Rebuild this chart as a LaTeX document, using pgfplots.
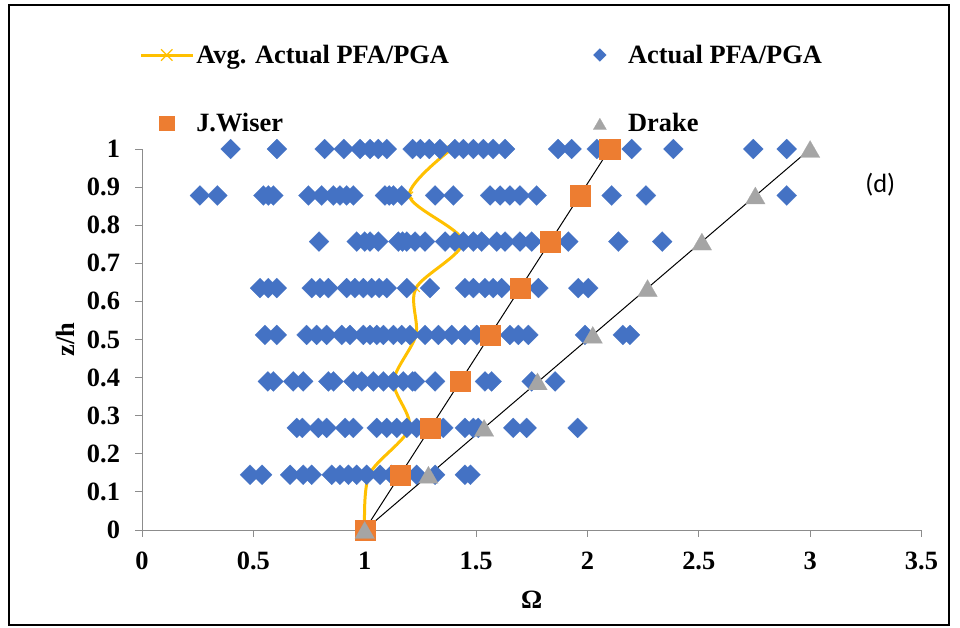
\documentclass[border=0pt]{standalone}
\usepackage{fontspec}
\setmainfont{Liberation Serif}
\newfontfamily\calibri{Carlito}
\usepackage{pgfplots}
\usepackage{pgfplotstable}
\pgfplotsset{compat=1.18}
\definecolor{xlblue}{HTML}{4472C4}
\definecolor{xlorange}{HTML}{ED7D31}
\definecolor{xlgray}{HTML}{A5A5A5}
\definecolor{xlyellow}{HTML}{FFC000}
\definecolor{axgray}{HTML}{8C8C8C}
\newcommand{\bigfont}{\fontsize{19.8}{23}\selectfont}
\pgfplotsset{
  markleg/.style={legend image code/.code={\path (0pt,0pt) (39pt,0pt);
    \draw[##1, mark size=#1] plot coordinates {(19.5pt,0pt)};}},
  lineleg/.style={legend image code/.code={\draw[##1] (0pt,0pt) -- (39pt,0pt);
    \draw[##1, mark size=#1] plot coordinates {(19.5pt,0pt)};}},
}

% measured PFA/PGA ratios, one row per floor level
\pgfplotstableread{
x y
0.398 1
0.606 1
0.82 1
0.906 1
0.979 1
1.024 1
1.061 1
1.099 1
1.215 1
1.25 1
1.29 1
1.338 1
1.405 1
1.443 1
1.488 1
1.533 1
1.577 1
1.63 1
1.868 1
1.929 1
2.042 1
2.199 1
2.386 1
2.745 1
2.895 1
0.26 0.878
0.338 0.878
0.545 0.878
0.567 0.878
0.59 0.878
0.747 0.878
0.807 0.878
0.859 0.878
0.889 0.878
0.919 0.878
0.949 0.878
1.091 0.878
1.11 0.878
1.129 0.878
1.166 0.878
1.316 0.878
1.398 0.878
1.563 0.878
1.608 0.878
1.652 0.878
1.697 0.878
1.772 0.878
2.109 0.878
2.263 0.878
2.895 0.878
0.795 0.757
0.964 0.757
1.0 0.757
1.024 0.757
1.061 0.757
1.151 0.757
1.17 0.757
1.189 0.757
1.226 0.757
1.271 0.757
1.361 0.757
1.405 0.757
1.443 0.757
1.488 0.757
1.525 0.757
1.593 0.757
1.63 0.757
1.697 0.757
1.75 0.757
1.914 0.757
2.139 0.757
2.336 0.757
0.53 0.635
0.567 0.635
0.605 0.635
0.762 0.635
0.799 0.635
0.837 0.635
0.919 0.635
0.956 0.635
0.994 0.635
1.031 0.635
1.065 0.635
1.099 0.635
1.189 0.635
1.293 0.635
1.45 0.635
1.488 0.635
1.54 0.635
1.577 0.635
1.615 0.635
1.78 0.635
1.959 0.635
2.004 0.635
0.552 0.512
0.605 0.512
0.739 0.512
0.784 0.512
0.829 0.512
0.897 0.512
0.934 0.512
0.994 0.512
1.024 0.512
1.054 0.512
1.084 0.512
1.129 0.512
1.166 0.512
1.203 0.512
1.271 0.512
1.331 0.512
1.391 0.512
1.45 0.512
1.503 0.512
1.652 0.512
1.69 0.512
1.735 0.512
1.989 0.512
2.159 0.512
2.191 0.512
0.565 0.39
0.59 0.39
0.679 0.39
0.724 0.39
0.837 0.39
0.86 0.39
0.949 0.39
0.987 0.39
1.039 0.39
1.084 0.39
1.129 0.39
1.173 0.39
1.215 0.39
1.226 0.39
1.316 0.39
1.54 0.39
1.57 0.39
1.75 0.39
1.855 0.39
0.695 0.268
0.72 0.268
0.792 0.268
0.829 0.268
0.912 0.268
0.949 0.268
1.054 0.268
1.099 0.268
1.144 0.268
1.189 0.268
1.233 0.268
1.353 0.268
1.45 0.268
1.488 0.268
1.51 0.268
1.667 0.268
1.727 0.268
1.956 0.268
0.485 0.145
0.539 0.145
0.665 0.145
0.724 0.145
0.762 0.145
0.852 0.145
0.889 0.145
0.927 0.145
0.964 0.145
1.009 0.145
1.069 0.145
1.121 0.145
1.233 0.145
1.316 0.145
1.45 0.145
1.475 0.145
}\actual

\pgfplotstableread{
x y
1.0 0
1.02 0.145
1.20 0.268
1.13 0.39
1.23 0.512
1.23 0.635
1.44 0.757
1.20 0.878
1.39 1
}\avgdata

\pgfplotstableread{
x y
1.0 0
1.158 0.145
1.293 0.268
1.428 0.39
1.563 0.512
1.697 0.635
1.832 0.757
1.967 0.878
2.10 1
}\wiser

\pgfplotstableread{
x y
1.0 0
1.286 0.145
1.536 0.268
1.776 0.39
2.024 0.512
2.27 0.635
2.514 0.757
2.754 0.878
3.0 1
}\drake

\begin{document}
\begin{tikzpicture}[x=0.75pt,y=0.75pt]
\useasboundingbox (0,0) rectangle (960,-628);
\draw[line width=1.2pt] (9,-5) rectangle (949,-625);
\begin{axis}[
  at={(106.5pt,-397.5pt)}, anchor=south west,
  scale only axis, width=584.6pt, height=285.75pt,
  xmin=0, xmax=3.5, ymin=0, ymax=1,
  clip=false,
  axis x line*=bottom, axis y line*=left,
  axis line style={draw=axgray, line width=0.75pt, -},
  tick align=outside, major tick length=5pt,
  tick style={draw=axgray, line width=0.75pt},
  xtick={0,0.5,1,1.5,2,2.5,3,3.5},
  ytick={0,0.1,0.2,0.3,0.4,0.5,0.6,0.7,0.8,0.9,1},
  yticklabels={0,0.1,0.2,0.3,0.4,0.5,0.6,0.7,0.8,0.9,1},
  /pgf/number format/assume math mode=true,
  tick label style={font=\bfseries\bigfont},
  xticklabel style={yshift=-8pt},
  yticklabel style={xshift=-8pt},
  xlabel={\bfseries\bigfont Ω},
  ylabel={\bfseries\bigfont z/h},
  xlabel style={at={(axis description cs:0.5,-0.1837)}, anchor=center},
  ylabel style={at={(axis description cs:-0.0988,0.5)}, anchor=center},
  legend columns=2,
  legend cell align=left,
  legend style={at={(-0.00385,1.1575)}, anchor=west, draw=none, fill=none,
    font=\bfseries\bigfont, inner sep=0pt, nodes={inner sep=1pt, anchor=west},
    /tikz/every odd column/.append style={column sep=0.5pt},
    /tikz/every even column/.append style={column sep=0pt},
    row sep=33.75pt},
]
\addplot[color=xlyellow, line width=2.25pt, smooth, tension=0.5,
  mark=x, mark size=4pt, mark options={line width=0.9pt},
  lineleg=6pt] table {\avgdata};
\addlegendentry{\makebox[282pt][l]{Avg. Actual PFA/PGA}}
\addplot[only marks, mark=square*, mark size=5.3pt,
  mark options={rotate=45, fill=xlblue, draw=xlblue, line width=0.1pt},
  markleg=3.4pt] table {\actual};
\addlegendentry{Actual PFA/PGA}
\addplot[only marks, mark=square*, mark size=7.6pt,
  mark options={fill=xlorange, draw=xlorange, line width=0.1pt},
  markleg=5.5pt] table {\wiser};
\addlegendentry{\makebox[282pt][l]{J.Wiser}}
\addplot[only marks, mark=triangle*, mark size=8.5pt,
  mark options={fill=xlgray, draw=xlgray, line width=0.1pt, yshift=-2.1pt},
  markleg=5.8pt] table {\drake};
\addlegendentry{Drake}
\addplot[black, line width=0.75pt, forget plot] coordinates {(1,0) (2.1,1)};
\addplot[black, line width=0.75pt, forget plot] coordinates {(1,0) (3,1)};
\node[font=\calibri\bigfont] at (axis cs:3.315,0.906) {(d)};
\end{axis}
\end{tikzpicture}
\end{document}
